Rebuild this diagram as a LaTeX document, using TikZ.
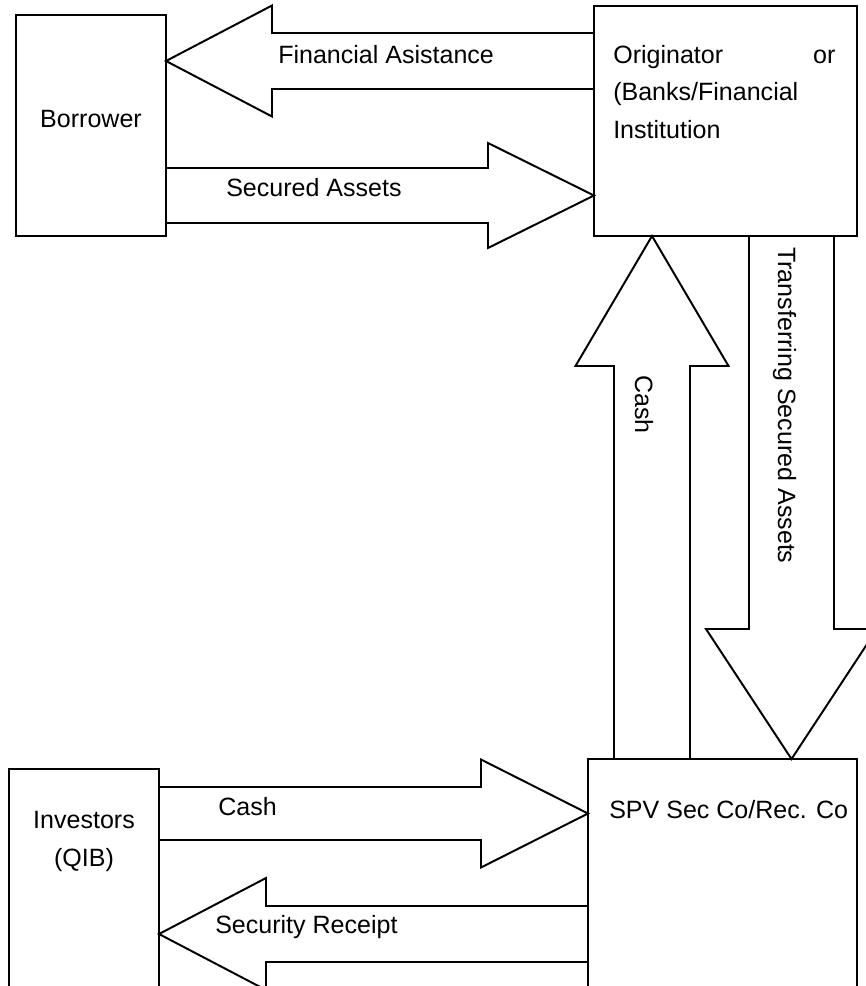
\documentclass[tikz,border=0pt]{standalone}
\usepackage{fontspec}
\setmainfont{Liberation Sans}
\usetikzlibrary{calc,fit}

\tikzset{
  box/.style={draw, line width=1.4pt, inner sep=0pt, outer sep=0pt},
  blockline/.style={line width=1.4pt, line join=miter},
  txt/.style={inner sep=0pt, font=\fontsize{17.8}{26.7}\selectfont},
}

\newcommand{\harrow}[5]{\draw[blockline] ($(#1)+(0,-#4)$) -- ($(#2)+(#3,-#4)$) -- ($(#2)+(#3,-#5)$) -- (#2) -- ($(#2)+(#3,#5)$) -- ($(#2)+(#3,#4)$) -- ($(#1)+(0,#4)$);}
\newcommand{\varrow}[5]{\draw[blockline] ($(#1)+(-#4,0)$) -- ($(#2)+(-#4,#3)$) -- ($(#2)+(-#5,#3)$) -- (#2) -- ($(#2)+(#5,#3)$) -- ($(#2)+(#4,#3)$) -- ($(#1)+(#4,0)$);}

\begin{document}
\begin{tikzpicture}[x=0.025cm, y=-0.025cm]
	\useasboundingbox (0,0) rectangle (866,986);
	\clip (0,0) rectangle (866,986);
	\node[box, fit={(16,15) (166,236)}] (borrower) {};
	\node[box, fit={(594,6) (857,236)}] (originator) {};
	\node[box, fit={(9,769) (159,1010)}] (investors) {};
	\node[box, fit={(588,759) (857,1010)}] (spv) {};
	\node[txt, anchor=base] (borrower text) at (91,127) {Borrower};
	\node[txt, anchor=base west, text width=5.55cm, align=left] (originator text) at (613,63) {Originator\hfill or\\(Banks/Financial\\Institution};
	\node[txt, anchor=base, align=center] (investors text) at (84,866) {Investors\\(QIB)};
	\node[txt, anchor=base west] (spv text) at (609,818) {SPV Sec Co/Rec. Co};
	\coordinate (fa tip) at (borrower.east |- 0,61);
	\coordinate (fa tail) at (originator.west |- 0,61);
	\coordinate (sa tip) at (originator.west |- 0,195.5);
	\coordinate (sa tail) at (borrower.east |- 0,195.5);
	\coordinate (cu tip) at (originator.south -| 652,0);
	\coordinate (cu tail) at (spv.north -| 652,0);
	\coordinate (ts tip) at (spv.north -| 791.5,0);
	\coordinate (ts tail) at (originator.south -| 791.5,0);
	\coordinate (ic tip) at (spv.west |- 0,813.5);
	\coordinate (ic tail) at (investors.east |- 0,813.5);
	\coordinate (sr tip) at (investors.east |- 0,934);
	\coordinate (sr tail) at (spv.west |- 0,934);
	\harrow{fa tail}{fa tip}{106}{28}{55.5}
	\harrow{sa tail}{sa tip}{-106}{27.5}{52.5}
	\varrow{cu tail}{cu tip}{130}{38}{76.5}
	\varrow{ts tail}{ts tip}{-130}{42.5}{85.5}
	\harrow{ic tail}{ic tip}{-107}{26.5}{54}
	\harrow{sr tail}{sr tip}{107}{28}{56}
	\node[txt, anchor=base west] (fa text) at (278,63) {Financial Asistance};
	\node[txt, anchor=base west] (sa text) at (226,196) {Secured Assets};
	\node[txt, anchor=base west, rotate=-90] (cu text) at (635,375) {Cash};
	\node[txt, anchor=base west, rotate=-90] (ts text) at (778,247) {Transferring Secured Assets};
	\node[txt, anchor=base west] (ic text) at (218,815) {Cash};
	\node[txt, anchor=base west] (sr text) at (215,933) {Security Receipt};
\end{tikzpicture}
\end{document}
